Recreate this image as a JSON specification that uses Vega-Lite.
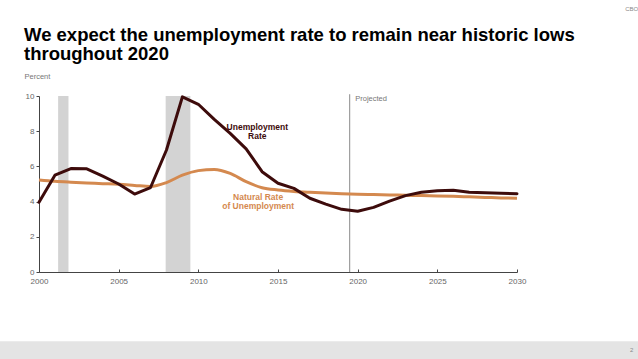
{
  "$schema": "https://vega.github.io/schema/vega-lite/v6.json",
  "autosize": "none",
  "width": 478,
  "height": 176,
  "padding": {"left": 39, "top": 96, "right": 121, "bottom": 87},
  "background": "white",
  "config": {
    "view": {"stroke": null},
    "font": "Liberation Sans",
    "axis": {"labelOverlap": false, "labelFlush": false, "labelBound": false, "grid": false, "labelSeparation": 0},
    "axisY": {"labelOverlap": false, "values": [0, 2, 4, 6, 8, 10]},
    "axisQuantitative": {"labelOverlap": false}
  },
  "title": {
    "text": ["We expect the unemployment rate to remain near historic lows", "throughout 2020"],
    "font": "Liberation Sans",
    "fontSize": 18.5,
    "fontWeight": "bold",
    "color": "#000000",
    "anchor": "start",
    "frame": "group",
    "dx": -15,
    "offset": 0,
    "dy": 58,
    "lineHeight": 19.5
  },
  "datasets": {
    "series": [
      {"year": 2000, "value": 3.96, "series": "Unemployment Rate"},
      {"year": 2001, "value": 5.5, "series": "Unemployment Rate"},
      {"year": 2002, "value": 5.88, "series": "Unemployment Rate"},
      {"year": 2003, "value": 5.86, "series": "Unemployment Rate"},
      {"year": 2004, "value": 5.45, "series": "Unemployment Rate"},
      {"year": 2005, "value": 5.0, "series": "Unemployment Rate"},
      {"year": 2006, "value": 4.43, "series": "Unemployment Rate"},
      {"year": 2007, "value": 4.8, "series": "Unemployment Rate"},
      {"year": 2008, "value": 6.93, "series": "Unemployment Rate"},
      {"year": 2009, "value": 9.95, "series": "Unemployment Rate"},
      {"year": 2010, "value": 9.53, "series": "Unemployment Rate"},
      {"year": 2011, "value": 8.67, "series": "Unemployment Rate"},
      {"year": 2012, "value": 7.88, "series": "Unemployment Rate"},
      {"year": 2013, "value": 7.0, "series": "Unemployment Rate"},
      {"year": 2014, "value": 5.7, "series": "Unemployment Rate"},
      {"year": 2015, "value": 5.04, "series": "Unemployment Rate"},
      {"year": 2016, "value": 4.75, "series": "Unemployment Rate"},
      {"year": 2017, "value": 4.19, "series": "Unemployment Rate"},
      {"year": 2018, "value": 3.86, "series": "Unemployment Rate"},
      {"year": 2019, "value": 3.56, "series": "Unemployment Rate"},
      {"year": 2020, "value": 3.45, "series": "Unemployment Rate"},
      {"year": 2021, "value": 3.67, "series": "Unemployment Rate"},
      {"year": 2022, "value": 4.03, "series": "Unemployment Rate"},
      {"year": 2023, "value": 4.34, "series": "Unemployment Rate"},
      {"year": 2024, "value": 4.53, "series": "Unemployment Rate"},
      {"year": 2025, "value": 4.62, "series": "Unemployment Rate"},
      {"year": 2026, "value": 4.64, "series": "Unemployment Rate"},
      {"year": 2027, "value": 4.53, "series": "Unemployment Rate"},
      {"year": 2028, "value": 4.5, "series": "Unemployment Rate"},
      {"year": 2029, "value": 4.47, "series": "Unemployment Rate"},
      {"year": 2030, "value": 4.45, "series": "Unemployment Rate"},
      {"year": 2000, "value": 5.23, "series": "Natural Rate of Unemployment"},
      {"year": 2001, "value": 5.15, "series": "Natural Rate of Unemployment"},
      {"year": 2002, "value": 5.1, "series": "Natural Rate of Unemployment"},
      {"year": 2003, "value": 5.06, "series": "Natural Rate of Unemployment"},
      {"year": 2004, "value": 5.02, "series": "Natural Rate of Unemployment"},
      {"year": 2005, "value": 4.98, "series": "Natural Rate of Unemployment"},
      {"year": 2006, "value": 4.92, "series": "Natural Rate of Unemployment"},
      {"year": 2007, "value": 4.86, "series": "Natural Rate of Unemployment"},
      {"year": 2008, "value": 5.08, "series": "Natural Rate of Unemployment"},
      {"year": 2009, "value": 5.5, "series": "Natural Rate of Unemployment"},
      {"year": 2010, "value": 5.76, "series": "Natural Rate of Unemployment"},
      {"year": 2011, "value": 5.83, "series": "Natural Rate of Unemployment"},
      {"year": 2012, "value": 5.6, "series": "Natural Rate of Unemployment"},
      {"year": 2013, "value": 5.13, "series": "Natural Rate of Unemployment"},
      {"year": 2014, "value": 4.79, "series": "Natural Rate of Unemployment"},
      {"year": 2015, "value": 4.66, "series": "Natural Rate of Unemployment"},
      {"year": 2016, "value": 4.58, "series": "Natural Rate of Unemployment"},
      {"year": 2017, "value": 4.53, "series": "Natural Rate of Unemployment"},
      {"year": 2018, "value": 4.49, "series": "Natural Rate of Unemployment"},
      {"year": 2019, "value": 4.45, "series": "Natural Rate of Unemployment"},
      {"year": 2020, "value": 4.42, "series": "Natural Rate of Unemployment"},
      {"year": 2021, "value": 4.4, "series": "Natural Rate of Unemployment"},
      {"year": 2022, "value": 4.38, "series": "Natural Rate of Unemployment"},
      {"year": 2023, "value": 4.36, "series": "Natural Rate of Unemployment"},
      {"year": 2024, "value": 4.34, "series": "Natural Rate of Unemployment"},
      {"year": 2025, "value": 4.32, "series": "Natural Rate of Unemployment"},
      {"year": 2026, "value": 4.3, "series": "Natural Rate of Unemployment"},
      {"year": 2027, "value": 4.27, "series": "Natural Rate of Unemployment"},
      {"year": 2028, "value": 4.24, "series": "Natural Rate of Unemployment"},
      {"year": 2029, "value": 4.21, "series": "Natural Rate of Unemployment"},
      {"year": 2030, "value": 4.19, "series": "Natural Rate of Unemployment"}
    ],
    "recessions": [
      {"start": 2001.2, "end": 2001.85},
      {"start": 2007.95, "end": 2009.5}
    ],
    "labels": [
      {"year": 2013.7, "value": 8.25, "text": "Unemployment", "series": "Unemployment Rate"},
      {"year": 2013.7, "value": 7.74, "text": "Rate", "series": "Unemployment Rate"},
      {"year": 2013.75, "value": 4.26, "text": "Natural Rate", "series": "Natural Rate of Unemployment"},
      {"year": 2013.75, "value": 3.75, "text": "of Unemployment", "series": "Natural Rate of Unemployment"}
    ]
  },
  "encoding": {
    "x": {
      "type": "quantitative",
      "scale": {"domain": [2000, 2030], "nice": false, "zero": false},
      "axis": {
        "title": null,
        "values": [2000, 2005, 2010, 2015, 2020, 2025, 2030],
        "format": "d",
        "grid": false,
        "domainColor": "#444444",
        "domainWidth": 1,
        "tickColor": "#444444",
        "tickSize": -3,
        "labelPadding": 8,
        "labelFontSize": 8,
        "labelColor": "#666666",
        "labelFont": "Liberation Sans",
        "labelFlush": false,
        "labelOverlap": false,
        "labelBound": false
      }
    },
    "y": {
      "type": "quantitative",
      "scale": {"domain": [0, 10], "nice": false, "zero": false},
      "axis": {
        "title": "Percent",
        "titleAngle": 0,
        "titleX": -15,
        "titleY": -20,
        "titleAlign": "left",
        "titleBaseline": "middle",
        "titleFontSize": 7.5,
        "titleFontWeight": "normal",
        "titleColor": "#777777",
        "values": [0, 2, 4, 6, 8, 10],
        "tickCount": 6,
        "format": "d",
        "grid": false,
        "domainColor": "#444444",
        "tickColor": "#444444",
        "tickSize": 3,
        "labelPadding": 2,
        "labelFontSize": 8,
        "labelColor": "#666666",
        "labelFont": "Liberation Sans",
        "labelFlush": false,
        "labelOverlap": false,
        "labelBound": false
      }
    }
  },
  "layer": [
    {
      "data": {"values": [{"x1": 1997.5, "x2": 2037.7, "y1": -3.93, "y2": -5}]},
      "mark": {"type": "rect", "color": "#e4e4e4", "clip": false},
      "encoding": {
        "x": {"field": "x1"},
        "x2": {"field": "x2"},
        "y": {"field": "y1"},
        "y2": {"field": "y2"}
      }
    },
    {
      "data": {"values": [{"year": 2037.2, "value": -4.45, "text": "2"}, {"year": 2037.2, "value": 14.95, "text": "CBO"}]},
      "mark": {"type": "text", "fontSize": 6, "color": "#888888", "align": "center", "baseline": "middle"},
      "encoding": {
        "x": {"field": "year"},
        "y": {"field": "value"},
        "text": {"field": "text"}
      }
    },
    {
      "data": {"name": "recessions"},
      "mark": {"type": "rect", "color": "#d3d3d3"},
      "encoding": {
        "x": {"field": "start"},
        "x2": {"field": "end"},
        "y": {"datum": 10},
        "y2": {"datum": 0}
      }
    },
    {
      "data": {"values": [{"year": 2019.5}]},
      "mark": {"type": "rule", "color": "#8a8a8a", "strokeWidth": 1},
      "encoding": {
        "x": {"field": "year"},
        "y": {"datum": 10.1},
        "y2": {"datum": 0}
      }
    },
    {
      "data": {"values": [{"year": 2019.85, "value": 9.83, "text": "Projected"}]},
      "mark": {"type": "text", "fontSize": 7.5, "color": "#777777", "align": "left", "baseline": "middle"},
      "encoding": {
        "x": {"field": "year"},
        "y": {"field": "value"},
        "text": {"field": "text"}
      }
    },
    {
      "data": {"name": "series"},
      "transform": [{"filter": "datum.series === 'Natural Rate of Unemployment'"}],
      "mark": {"type": "line", "interpolate": "monotone", "strokeWidth": 3, "strokeJoin": "round"},
      "encoding": {
        "x": {"field": "year"},
        "y": {"field": "value"},
        "color": {
          "field": "series",
          "type": "nominal",
          "scale": {"domain": ["Unemployment Rate", "Natural Rate of Unemployment"], "range": ["#3d0b0b", "#d4894f"]},
          "legend": null
        },
        "order": {"field": "year"}
      }
    },
    {
      "data": {"name": "series"},
      "transform": [{"filter": "datum.series === 'Unemployment Rate'"}],
      "mark": {"type": "line", "interpolate": "linear", "strokeWidth": 3, "strokeJoin": "round", "strokeCap": "round"},
      "encoding": {
        "x": {"field": "year"},
        "y": {"field": "value"},
        "color": {"field": "series", "type": "nominal", "legend": null},
        "order": {"field": "year"}
      }
    },
    {
      "data": {"name": "labels"},
      "mark": {"type": "text", "fontSize": 8.5, "fontWeight": "bold", "align": "center", "baseline": "middle"},
      "encoding": {
        "x": {"field": "year"},
        "y": {"field": "value"},
        "text": {"field": "text"},
        "color": {"field": "series", "type": "nominal", "legend": null}
      }
    }
  ]
}
